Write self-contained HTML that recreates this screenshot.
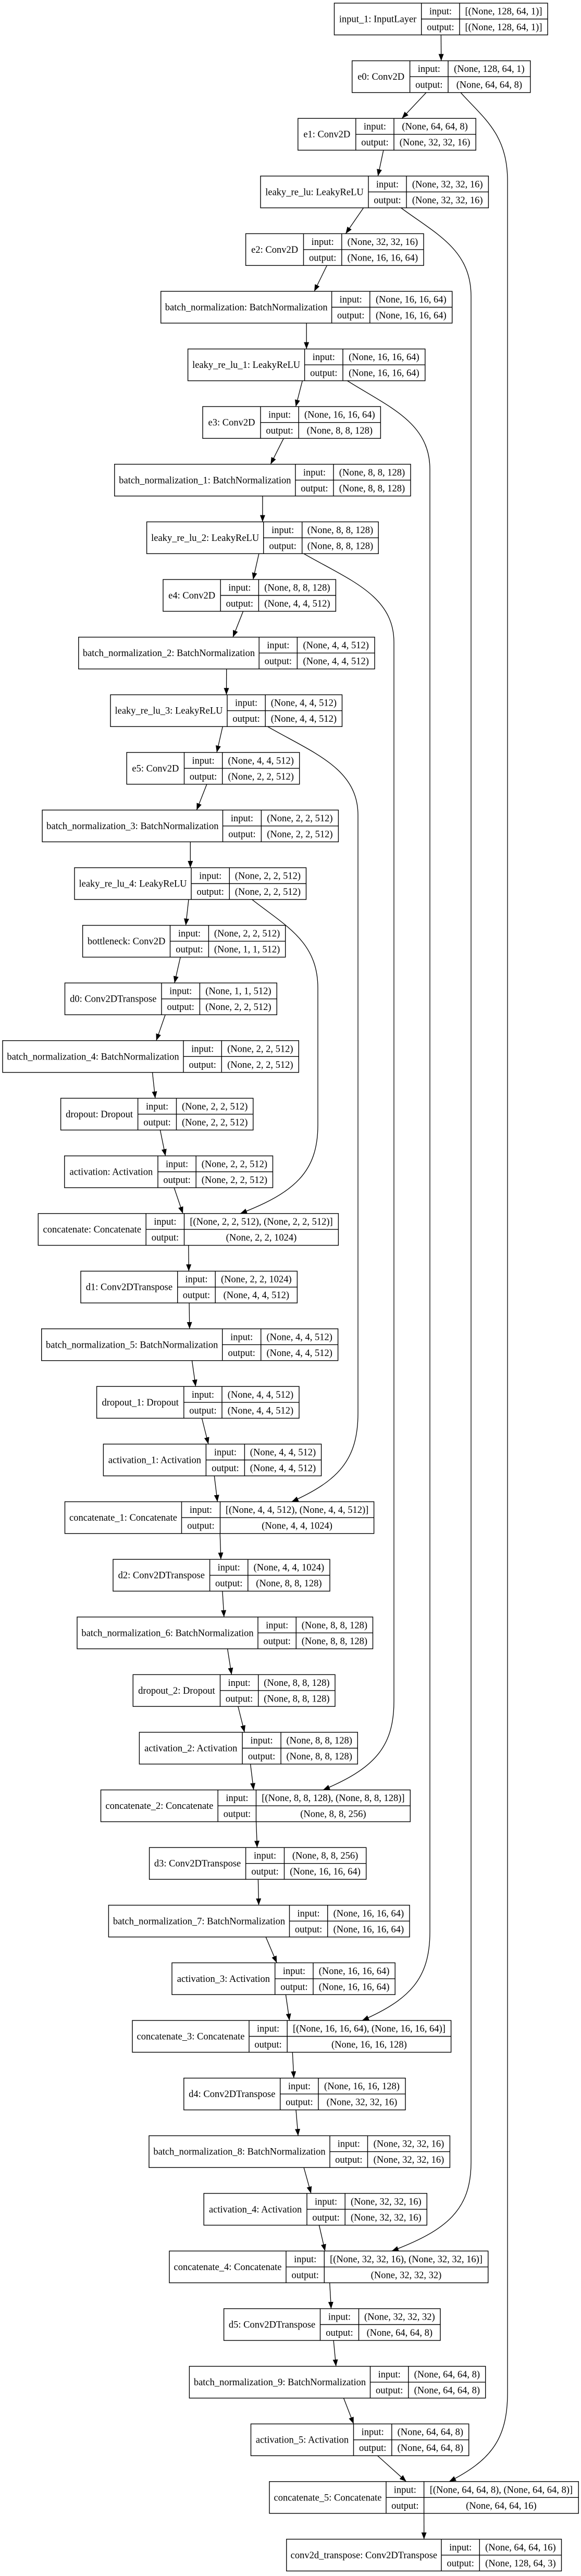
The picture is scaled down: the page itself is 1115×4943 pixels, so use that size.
<!DOCTYPE html>
<html><head><meta charset="utf-8">
<style>
html,body{margin:0;padding:0;background:#fff;}
svg{display:block;}
text{font-family:"Liberation Serif",serif;font-size:18.5px;fill:#000;text-anchor:middle;}
rect{fill:none;stroke:#000;stroke-width:1.4;}
.d{fill:none;stroke:#000;stroke-width:1.4;}
.e{fill:none;stroke:#000;stroke-width:1.3;marker-end:url(#ah);}
</style></head><body>
<svg width="1115" height="4943" viewBox="0 0 1115 4943" xmlns="http://www.w3.org/2000/svg">
<defs><marker id="ah" markerUnits="userSpaceOnUse" markerWidth="13" markerHeight="10" refX="13" refY="5" orient="auto"><path d="M0,0 L13,5 L0,10 z" fill="#000"/></marker></defs>
<rect x="0" y="0" width="1115" height="4943" style="fill:#fff;stroke:none"/>

<!-- edges -->
<path class="e" d="M846.4,67 L846.7,116.6"/>
<path class="e" d="M818,177.6 L771.3,227.2"/>
<path class="e" d="M735.9,288.2 L725.3,337.8"/>
<path class="e" d="M697.6,398.8 L663.4,448.4"/>
<path class="e" d="M627.4,509.4 L603.1,559"/>
<path class="e" d="M588.2,620 L588.2,669.6"/>
<path class="e" d="M580.3,730.6 L567.6,780.2"/>
<path class="e" d="M544.3,841.2 L519.3,890.8"/>
<path class="e" d="M503.9,951.8 L503.9,1001.4"/>
<path class="e" d="M496.9,1062.4 L485.7,1112"/>
<path class="e" d="M466.6,1173 L447,1222.6"/>
<path class="e" d="M434.7,1283.6 L434.5,1333.2"/>
<path class="e" d="M427.3,1394.2 L416,1443.8"/>
<path class="e" d="M396.9,1504.8 L377.4,1554.4"/>
<path class="e" d="M365.3,1615.4 L365.3,1665"/>
<path class="e" d="M362,1726 L356.5,1775.6"/>
<path class="e" d="M346.2,1836.6 L334.9,1886.2"/>
<path class="e" d="M317.2,1947.2 L299.9,1996.8"/>
<path class="e" d="M292.5,2057.8 L297.9,2107.4"/>
<path class="e" d="M307.4,2168.4 L317.5,2218"/>
<path class="e" d="M334.1,2279 L351,2328.6"/>
<path class="e" d="M361.8,2389.6 L362.3,2439.2"/>
<path class="e" d="M363.1,2500.2 L363.8,2549.8"/>
<path class="e" d="M368.5,2610.8 L375.5,2660.4"/>
<path class="e" d="M387.4,2721.4 L399.9,2771"/>
<path class="e" d="M411.3,2832 L417.3,2881.6"/>
<path class="e" d="M422.2,2942.6 L423.9,2992.2"/>
<path class="e" d="M426.9,3053.2 L429.9,3102.8"/>
<path class="e" d="M436.6,3163.8 L444.4,3213.4"/>
<path class="e" d="M456.8,3274.4 L469.3,3324"/>
<path class="e" d="M480.6,3385 L486.7,3434.6"/>
<path class="e" d="M491.6,3495.6 L493.5,3545.2"/>
<path class="e" d="M495.4,3606.2 L496.5,3655.8"/>
<path class="e" d="M510.1,3716.8 L531.2,3766.4"/>
<path class="e" d="M548.4,3827.4 L555.5,3877"/>
<path class="e" d="M561.3,3938 L563.9,3987.6"/>
<path class="e" d="M568,4048.6 L572.1,4098.2"/>
<path class="e" d="M583.1,4159.2 L596.9,4208.8"/>
<path class="e" d="M612.4,4269.8 L623.8,4319.4"/>
<path class="e" d="M632.7,4380.4 L635.5,4430"/>
<path class="e" d="M640.1,4491 L644.8,4540.6"/>
<path class="e" d="M659.5,4601.6 L678.7,4651.2"/>
<path class="e" d="M724.5,4712.2 L779.7,4761.8"/>
<path class="e" d="M813.6,4822.8 L813.7,4872.4"/>

<!-- skip connections -->
<path class="e" d="M884,177.6 C929,227.6 974,257.6 974,347.6 L974,4591.8 C974,4681.8 940.4,4721.8 862,4761.8"/>
<path class="e" d="M769.5,398.8 C836.8,448.8 904,478.8 904,568.8 L904,4149.4 C904,4239.4 858.3,4279.4 751.8,4319.4"/>
<path class="e" d="M666.4,730.6 C745.7,780.6 825,810.6 825,900.6 L825,3707 C825,3797 786,3837 695,3877"/>
<path class="e" d="M583,1062.4 C669.5,1112.4 756,1142.4 756,1232.4 L756,3264.6 C756,3354.6 715.2,3394.6 620,3434.6"/>
<path class="e" d="M513.5,1394.2 C600.3,1444.2 687,1474.2 687,1564.2 L687,2711.6 C687,2801.6 648.8,2841.6 559.7,2881.6"/>
<path class="e" d="M483.6,1726 C546.8,1776 610,1806 610,1896 L610,2158.6 C610,2248.6 565.3,2288.6 461,2328.6"/>

<!-- nodes -->
<g transform="translate(0,6)"><rect x="641.5" y="0" width="409.5" height="61"/><path class="d" d="M808.7,0V61M882,0V61M808.7,30.5H1051"/><text x="725.1" y="36.5">input_1: InputLayer</text><text x="845.4" y="21.5">input:</text><text x="845.4" y="52">output:</text><text x="966.5" y="21.5">[(None, 128, 64, 1)]</text><text x="966.5" y="52">[(None, 128, 64, 1)]</text></g>
<g transform="translate(0,116.6)"><rect x="675.7" y="0" width="342.1" height="61"/><path class="d" d="M786.6,0V61M860,0V61M786.6,30.5H1017.8"/><text x="731.2" y="36.5">e0: Conv2D</text><text x="823.3" y="21.5">input:</text><text x="823.3" y="52">output:</text><text x="938.9" y="21.5">(None, 128, 64, 1)</text><text x="938.9" y="52">(None, 64, 64, 8)</text></g>
<g transform="translate(0,227.2)"><rect x="571.8" y="0" width="341.4" height="61"/><path class="d" d="M682.8,0V61M756,0V61M682.8,30.5H913.2"/><text x="627.3" y="36.5">e1: Conv2D</text><text x="719.4" y="21.5">input:</text><text x="719.4" y="52">output:</text><text x="834.6" y="21.5">(None, 64, 64, 8)</text><text x="834.6" y="52">(None, 32, 32, 16)</text></g>
<g transform="translate(0,337.8)"><rect x="500" y="0" width="437.4" height="61"/><path class="d" d="M707,0V61M780,0V61M707,30.5H937.4"/><text x="603.5" y="36.5">leaky_re_lu: LeakyReLU</text><text x="743.5" y="21.5">input:</text><text x="743.5" y="52">output:</text><text x="858.7" y="21.5">(None, 32, 32, 16)</text><text x="858.7" y="52">(None, 32, 32, 16)</text></g>
<g transform="translate(0,448.4)"><rect x="471.6" y="0" width="341.4" height="61"/><path class="d" d="M582.5,0V61M655.8,0V61M582.5,30.5H813"/><text x="527.1" y="36.5">e2: Conv2D</text><text x="619.2" y="21.5">input:</text><text x="619.2" y="52">output:</text><text x="734.4" y="21.5">(None, 32, 32, 16)</text><text x="734.4" y="52">(None, 16, 16, 64)</text></g>
<g transform="translate(0,559)"><rect x="308.7" y="0" width="559" height="61"/><path class="d" d="M636.6,0V61M709.8,0V61M636.6,30.5H867.7"/><text x="472.7" y="36.5">batch_normalization: BatchNormalization</text><text x="673.2" y="21.5">input:</text><text x="673.2" y="52">output:</text><text x="788.8" y="21.5">(None, 16, 16, 64)</text><text x="788.8" y="52">(None, 16, 16, 64)</text></g>
<g transform="translate(0,669.6)"><rect x="360.6" y="0" width="455.2" height="61"/><path class="d" d="M584.6,0V61M658,0V61M584.6,30.5H815.8"/><text x="472.6" y="36.5">leaky_re_lu_1: LeakyReLU</text><text x="621.3" y="21.5">input:</text><text x="621.3" y="52">output:</text><text x="736.9" y="21.5">(None, 16, 16, 64)</text><text x="736.9" y="52">(None, 16, 16, 64)</text></g>
<g transform="translate(0,780.2)"><rect x="389" y="0" width="341.4" height="61"/><path class="d" d="M500,0V61M573.2,0V61M500,30.5H730.4"/><text x="444.5" y="36.5">e3: Conv2D</text><text x="536.6" y="21.5">input:</text><text x="536.6" y="52">output:</text><text x="651.8" y="21.5">(None, 16, 16, 64)</text><text x="651.8" y="52">(None, 8, 8, 128)</text></g>
<g transform="translate(0,890.8)"><rect x="219.8" y="0" width="568.2" height="61"/><path class="d" d="M566.9,0V61M640,0V61M566.9,30.5H788"/><text x="393.4" y="36.5">batch_normalization_1: BatchNormalization</text><text x="603.5" y="21.5">input:</text><text x="603.5" y="52">output:</text><text x="714" y="21.5">(None, 8, 8, 128)</text><text x="714" y="52">(None, 8, 8, 128)</text></g>
<g transform="translate(0,1001.4)"><rect x="281.6" y="0" width="444.6" height="61"/><path class="d" d="M505.7,0V61M579.7,0V61M505.7,30.5H726.2"/><text x="393.7" y="36.5">leaky_re_lu_2: LeakyReLU</text><text x="542.7" y="21.5">input:</text><text x="542.7" y="52">output:</text><text x="653" y="21.5">(None, 8, 8, 128)</text><text x="653" y="52">(None, 8, 8, 128)</text></g>
<g transform="translate(0,1112)"><rect x="313" y="0" width="331.4" height="61"/><path class="d" d="M423.2,0V61M496.4,0V61M423.2,30.5H644.4"/><text x="368.1" y="36.5">e4: Conv2D</text><text x="459.8" y="21.5">input:</text><text x="459.8" y="52">output:</text><text x="570.4" y="21.5">(None, 8, 8, 128)</text><text x="570.4" y="52">(None, 4, 4, 512)</text></g>
<g transform="translate(0,1222.6)"><rect x="150.8" y="0" width="568.2" height="61"/><path class="d" d="M497.2,0V61M570.4,0V61M497.2,30.5H719"/><text x="324" y="36.5">batch_normalization_2: BatchNormalization</text><text x="533.8" y="21.5">input:</text><text x="533.8" y="52">output:</text><text x="644.7" y="21.5">(None, 4, 4, 512)</text><text x="644.7" y="52">(None, 4, 4, 512)</text></g>
<g transform="translate(0,1333.2)"><rect x="212" y="0" width="444.5" height="61"/><path class="d" d="M436,0V61M509.2,0V61M436,30.5H656.5"/><text x="324" y="36.5">leaky_re_lu_3: LeakyReLU</text><text x="472.6" y="21.5">input:</text><text x="472.6" y="52">output:</text><text x="582.9" y="21.5">(None, 4, 4, 512)</text><text x="582.9" y="52">(None, 4, 4, 512)</text></g>
<g transform="translate(0,1443.8)"><rect x="243.2" y="0" width="331.5" height="61"/><path class="d" d="M353.5,0V61M426.7,0V61M353.5,30.5H574.7"/><text x="298.4" y="36.5">e5: Conv2D</text><text x="390.1" y="21.5">input:</text><text x="390.1" y="52">output:</text><text x="500.7" y="21.5">(None, 4, 4, 512)</text><text x="500.7" y="52">(None, 2, 2, 512)</text></g>
<g transform="translate(0,1554.4)"><rect x="81.1" y="0" width="568.3" height="61"/><path class="d" d="M427.5,0V61M501.4,0V61M427.5,30.5H649.4"/><text x="254.3" y="36.5">batch_normalization_3: BatchNormalization</text><text x="464.5" y="21.5">input:</text><text x="464.5" y="52">output:</text><text x="575.4" y="21.5">(None, 2, 2, 512)</text><text x="575.4" y="52">(None, 2, 2, 512)</text></g>
<g transform="translate(0,1665)"><rect x="143" y="0" width="444.5" height="61"/><path class="d" d="M367,0V61M440.3,0V61M367,30.5H587.5"/><text x="255" y="36.5">leaky_re_lu_4: LeakyReLU</text><text x="403.7" y="21.5">input:</text><text x="403.7" y="52">output:</text><text x="513.9" y="21.5">(None, 2, 2, 512)</text><text x="513.9" y="52">(None, 2, 2, 512)</text></g>
<g transform="translate(0,1775.6)"><rect x="158.6" y="0" width="389.1" height="61"/><path class="d" d="M326.5,0V61M400.4,0V61M326.5,30.5H547.7"/><text x="242.6" y="36.5">bottleneck: Conv2D</text><text x="363.5" y="21.5">input:</text><text x="363.5" y="52">output:</text><text x="474.1" y="21.5">(None, 2, 2, 512)</text><text x="474.1" y="52">(None, 1, 1, 512)</text></g>
<g transform="translate(0,1886.2)"><rect x="124.5" y="0" width="406.8" height="61"/><path class="d" d="M310,0V61M383.4,0V61M310,30.5H531.3"/><text x="217.3" y="36.5">d0: Conv2DTranspose</text><text x="346.7" y="21.5">input:</text><text x="346.7" y="52">output:</text><text x="457.4" y="21.5">(None, 1, 1, 512)</text><text x="457.4" y="52">(None, 2, 2, 512)</text></g>
<g transform="translate(0,1996.8)"><rect x="5" y="0" width="568.3" height="61"/><path class="d" d="M352,0V61M425.3,0V61M352,30.5H573.3"/><text x="178.5" y="36.5">batch_normalization_4: BatchNormalization</text><text x="388.7" y="21.5">input:</text><text x="388.7" y="52">output:</text><text x="499.3" y="21.5">(None, 2, 2, 512)</text><text x="499.3" y="52">(None, 2, 2, 512)</text></g>
<g transform="translate(0,2107.4)"><rect x="116.6" y="0" width="369.2" height="61"/><path class="d" d="M264.6,0V61M338.5,0V61M264.6,30.5H485.8"/><text x="190.6" y="36.5">dropout: Dropout</text><text x="301.6" y="21.5">input:</text><text x="301.6" y="52">output:</text><text x="412.2" y="21.5">(None, 2, 2, 512)</text><text x="412.2" y="52">(None, 2, 2, 512)</text></g>
<g transform="translate(0,2218)"><rect x="123.8" y="0" width="399.7" height="61"/><path class="d" d="M303,0V61M376.2,0V61M303,30.5H523.5"/><text x="213.4" y="36.5">activation: Activation</text><text x="339.6" y="21.5">input:</text><text x="339.6" y="52">output:</text><text x="449.9" y="21.5">(None, 2, 2, 512)</text><text x="449.9" y="52">(None, 2, 2, 512)</text></g>
<g transform="translate(0,2328.6)"><rect x="73.3" y="0" width="576.1" height="61"/><path class="d" d="M280.2,0V61M353.5,0V61M280.2,30.5H649.4"/><text x="176.8" y="36.5">concatenate: Concatenate</text><text x="316.9" y="21.5">input:</text><text x="316.9" y="52">output:</text><text x="501.5" y="21.5">[(None, 2, 2, 512), (None, 2, 2, 512)]</text><text x="501.5" y="52">(None, 2, 2, 1024)</text></g>
<g transform="translate(0,2439.2)"><rect x="155" y="0" width="415.4" height="61"/><path class="d" d="M340.7,0V61M413.2,0V61M340.7,30.5H570.4"/><text x="247.9" y="36.5">d1: Conv2DTranspose</text><text x="377" y="21.5">input:</text><text x="377" y="52">output:</text><text x="491.8" y="21.5">(None, 2, 2, 1024)</text><text x="491.8" y="52">(None, 4, 4, 512)</text></g>
<g transform="translate(0,2549.8)"><rect x="79.7" y="0" width="568.9" height="61"/><path class="d" d="M426.7,0V61M500.7,0V61M426.7,30.5H648.6"/><text x="253.2" y="36.5">batch_normalization_5: BatchNormalization</text><text x="463.7" y="21.5">input:</text><text x="463.7" y="52">output:</text><text x="574.7" y="21.5">(None, 4, 4, 512)</text><text x="574.7" y="52">(None, 4, 4, 512)</text></g>
<g transform="translate(0,2660.4)"><rect x="185.6" y="0" width="388.4" height="61"/><path class="d" d="M352.8,0V61M426,0V61M352.8,30.5H574"/><text x="269.2" y="36.5">dropout_1: Dropout</text><text x="389.4" y="21.5">input:</text><text x="389.4" y="52">output:</text><text x="500" y="21.5">(None, 4, 4, 512)</text><text x="500" y="52">(None, 4, 4, 512)</text></g>
<g transform="translate(0,2771)"><rect x="198.4" y="0" width="418.2" height="61"/><path class="d" d="M395.4,0V61M469.4,0V61M395.4,30.5H616.6"/><text x="296.9" y="36.5">activation_1: Activation</text><text x="432.4" y="21.5">input:</text><text x="432.4" y="52">output:</text><text x="543" y="21.5">(None, 4, 4, 512)</text><text x="543" y="52">(None, 4, 4, 512)</text></g>
<g transform="translate(0,2881.6)"><rect x="124.5" y="0" width="593.1" height="61"/><path class="d" d="M348.5,0V61M422.5,0V61M348.5,30.5H717.6"/><text x="236.5" y="36.5">concatenate_1: Concatenate</text><text x="385.5" y="21.5">input:</text><text x="385.5" y="52">output:</text><text x="570.1" y="21.5">[(None, 4, 4, 512), (None, 4, 4, 512)]</text><text x="570.1" y="52">(None, 4, 4, 1024)</text></g>
<g transform="translate(0,2992.2)"><rect x="217" y="0" width="416" height="61"/><path class="d" d="M402.6,0V61M475.8,0V61M402.6,30.5H633"/><text x="309.8" y="36.5">d2: Conv2DTranspose</text><text x="439.2" y="21.5">input:</text><text x="439.2" y="52">output:</text><text x="554.4" y="21.5">(None, 4, 4, 1024)</text><text x="554.4" y="52">(None, 8, 8, 128)</text></g>
<g transform="translate(0,3102.8)"><rect x="148" y="0" width="567.5" height="61"/><path class="d" d="M495,0V61M568.3,0V61M495,30.5H715.5"/><text x="321.5" y="36.5">batch_normalization_6: BatchNormalization</text><text x="531.7" y="21.5">input:</text><text x="531.7" y="52">output:</text><text x="641.9" y="21.5">(None, 8, 8, 128)</text><text x="641.9" y="52">(None, 8, 8, 128)</text></g>
<g transform="translate(0,3213.4)"><rect x="255.3" y="0" width="387.7" height="61"/><path class="d" d="M422.5,0V61M495.7,0V61M422.5,30.5H643"/><text x="338.9" y="36.5">dropout_2: Dropout</text><text x="459.1" y="21.5">input:</text><text x="459.1" y="52">output:</text><text x="569.4" y="21.5">(None, 8, 8, 128)</text><text x="569.4" y="52">(None, 8, 8, 128)</text></g>
<g transform="translate(0,3324)"><rect x="267.4" y="0" width="418.9" height="61"/><path class="d" d="M465.1,0V61M539.1,0V61M465.1,30.5H686.3"/><text x="366.3" y="36.5">activation_2: Activation</text><text x="502.1" y="21.5">input:</text><text x="502.1" y="52">output:</text><text x="612.7" y="21.5">(None, 8, 8, 128)</text><text x="612.7" y="52">(None, 8, 8, 128)</text></g>
<g transform="translate(0,3434.6)"><rect x="193.5" y="0" width="593.8" height="61"/><path class="d" d="M418.2,0V61M491.5,0V61M418.2,30.5H787.3"/><text x="305.9" y="36.5">concatenate_2: Concatenate</text><text x="454.9" y="21.5">input:</text><text x="454.9" y="52">output:</text><text x="639.4" y="21.5">[(None, 8, 8, 128), (None, 8, 8, 128)]</text><text x="639.4" y="52">(None, 8, 8, 256)</text></g>
<g transform="translate(0,3545.2)"><rect x="286.6" y="0" width="416.1" height="61"/><path class="d" d="M471.6,0V61M545.5,0V61M471.6,30.5H702.7"/><text x="379.1" y="36.5">d3: Conv2DTranspose</text><text x="508.6" y="21.5">input:</text><text x="508.6" y="52">output:</text><text x="624.1" y="21.5">(None, 8, 8, 256)</text><text x="624.1" y="52">(None, 16, 16, 64)</text></g>
<g transform="translate(0,3655.8)"><rect x="208.4" y="0" width="577.6" height="61"/><path class="d" d="M555.5,0V61M628.7,0V61M555.5,30.5H786"/><text x="382" y="36.5">batch_normalization_7: BatchNormalization</text><text x="592.1" y="21.5">input:</text><text x="592.1" y="52">output:</text><text x="707.4" y="21.5">(None, 16, 16, 64)</text><text x="707.4" y="52">(None, 16, 16, 64)</text></g>
<g transform="translate(0,3766.4)"><rect x="330" y="0" width="428.2" height="61"/><path class="d" d="M527.7,0V61M601,0V61M527.7,30.5H758.2"/><text x="428.9" y="36.5">activation_3: Activation</text><text x="564.4" y="21.5">input:</text><text x="564.4" y="52">output:</text><text x="679.6" y="21.5">(None, 16, 16, 64)</text><text x="679.6" y="52">(None, 16, 16, 64)</text></g>
<g transform="translate(0,3877)"><rect x="254" y="0" width="611.6" height="61"/><path class="d" d="M478,0V61M551.2,0V61M478,30.5H865.6"/><text x="366" y="36.5">concatenate_3: Concatenate</text><text x="514.6" y="21.5">input:</text><text x="514.6" y="52">output:</text><text x="708.4" y="21.5">[(None, 16, 16, 64), (None, 16, 16, 64)]</text><text x="708.4" y="52">(None, 16, 16, 128)</text></g>
<g transform="translate(0,3987.6)"><rect x="352.8" y="0" width="425.2" height="61"/><path class="d" d="M537.7,0V61M611,0V61M537.7,30.5H778"/><text x="445.3" y="36.5">d4: Conv2DTranspose</text><text x="574.4" y="21.5">input:</text><text x="574.4" y="52">output:</text><text x="694.5" y="21.5">(None, 16, 16, 128)</text><text x="694.5" y="52">(None, 32, 32, 16)</text></g>
<g transform="translate(0,4098.2)"><rect x="286" y="0" width="577.4" height="61"/><path class="d" d="M633,0V61M705.5,0V61M633,30.5H863.4"/><text x="459.5" y="36.5">batch_normalization_8: BatchNormalization</text><text x="669.3" y="21.5">input:</text><text x="669.3" y="52">output:</text><text x="784.5" y="21.5">(None, 32, 32, 16)</text><text x="784.5" y="52">(None, 32, 32, 16)</text></g>
<g transform="translate(0,4208.8)"><rect x="391.2" y="0" width="428.1" height="61"/><path class="d" d="M589,0V61M662.2,0V61M589,30.5H819.3"/><text x="490.1" y="36.5">activation_4: Activation</text><text x="625.6" y="21.5">input:</text><text x="625.6" y="52">output:</text><text x="740.8" y="21.5">(None, 32, 32, 16)</text><text x="740.8" y="52">(None, 32, 32, 16)</text></g>
<g transform="translate(0,4319.4)"><rect x="325" y="0" width="611.7" height="61"/><path class="d" d="M549,0V61M622.3,0V61M549,30.5H936.7"/><text x="437" y="36.5">concatenate_4: Concatenate</text><text x="585.7" y="21.5">input:</text><text x="585.7" y="52">output:</text><text x="779.5" y="21.5">[(None, 32, 32, 16), (None, 32, 32, 16)]</text><text x="779.5" y="52">(None, 32, 32, 32)</text></g>
<g transform="translate(0,4430)"><rect x="429.6" y="0" width="415.4" height="61"/><path class="d" d="M614.5,0V61M688.5,0V61M614.5,30.5H845"/><text x="522.1" y="36.5">d5: Conv2DTranspose</text><text x="651.5" y="21.5">input:</text><text x="651.5" y="52">output:</text><text x="766.8" y="21.5">(None, 32, 32, 32)</text><text x="766.8" y="52">(None, 64, 64, 8)</text></g>
<g transform="translate(0,4540.6)"><rect x="363.4" y="0" width="568.3" height="61"/><path class="d" d="M710.5,0V61M783.8,0V61M710.5,30.5H931.7"/><text x="537" y="36.5">batch_normalization_9: BatchNormalization</text><text x="747.2" y="21.5">input:</text><text x="747.2" y="52">output:</text><text x="857.8" y="21.5">(None, 64, 64, 8)</text><text x="857.8" y="52">(None, 64, 64, 8)</text></g>
<g transform="translate(0,4651.2)"><rect x="481.5" y="0" width="418.2" height="61"/><path class="d" d="M678.5,0V61M751.8,0V61M678.5,30.5H899.7"/><text x="580" y="36.5">activation_5: Activation</text><text x="715.2" y="21.5">input:</text><text x="715.2" y="52">output:</text><text x="825.8" y="21.5">(None, 64, 64, 8)</text><text x="825.8" y="52">(None, 64, 64, 8)</text></g>
<g transform="translate(0,4761.8)"><rect x="517" y="0" width="593.2" height="61"/><path class="d" d="M741,0V61M813.6,0V61M741,30.5H1110.2"/><text x="629" y="36.5">concatenate_5: Concatenate</text><text x="777.3" y="21.5">input:</text><text x="777.3" y="52">output:</text><text x="961.9" y="21.5">[(None, 64, 64, 8), (None, 64, 64, 8)]</text><text x="961.9" y="52">(None, 64, 64, 16)</text></g>
<g transform="translate(0,4872.4)"><rect x="549.8" y="0" width="527.7" height="61"/><path class="d" d="M847,0V61M920.3,0V61M847,30.5H1077.5"/><text x="698.4" y="36.5">conv2d_transpose: Conv2DTranspose</text><text x="883.7" y="21.5">input:</text><text x="883.7" y="52">output:</text><text x="998.9" y="21.5">(None, 64, 64, 16)</text><text x="998.9" y="52">(None, 128, 64, 3)</text></g>
</svg>
</body></html>
